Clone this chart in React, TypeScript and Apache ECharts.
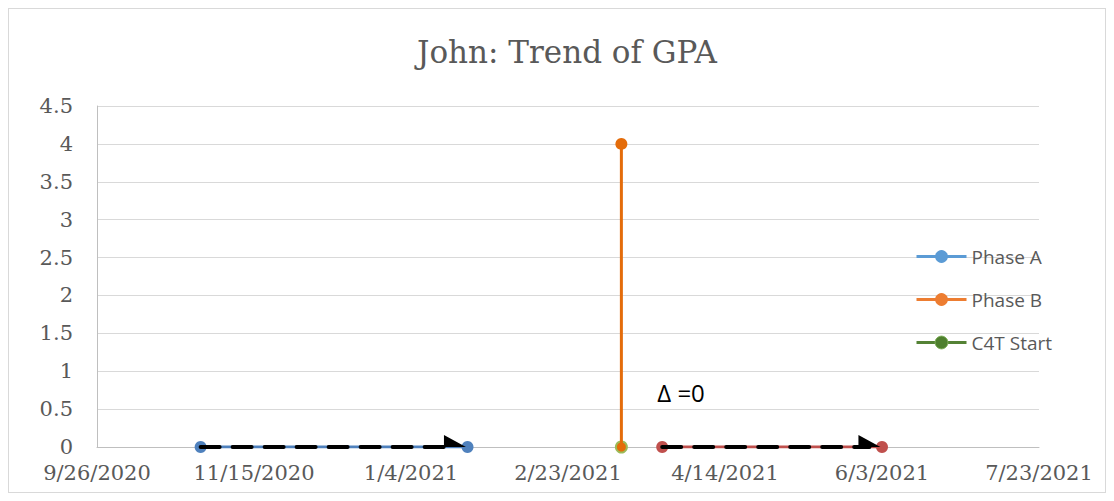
import React, { useEffect, useRef } from "react";
import * as echarts from "echarts";

// Dates are stored as Excel serial day numbers (44100 = 9/26/2020)
const xMin = 44100;
const xMax = 44400;
const xStep = 50;
const xTickLabels = ["9/26/2020", "11/15/2020", "1/4/2021", "2/23/2021", "4/14/2021", "6/3/2021", "7/23/2021"];

const phaseA: [number, number][] = [
  [44133, 0],
  [44218, 0],
];
const phaseB: [number, number][] = [
  [44267, 0],
  [44267, 4],
];
const c4tStart: [number, number][] = [[44267, 0]];
const phaseBTrend: [number, number][] = [
  [44280, 0],
  [44350, 0],
];
const trendArrows: [[number, number], [number, number]][] = [
  [[44133, 0], [44214, 0]],
  [[44280, 0], [44346, 0]],
];
const deltaNote = { x: 44286, y: 0.72, text: "Δ =0" };

const halfArrow = "path://M10,0 L10,22 L0,22 Z M20,22 L20,22 Z";

export default function App() {
  const ref = useRef<HTMLDivElement>(null);
  useEffect(() => {
    if (!ref.current) return;
    const chart = echarts.init(ref.current, null, { renderer: "svg" });
    const serif = "DejaVu Serif";
    const sans = "Open Sans";
    chart.setOption({
      animation: false,
      backgroundColor: "#ffffff",
      title: {
        text: "John: Trend of GPA",
        left: 558,
        textAlign: "center",
        top: 27,
        padding: 0,
        textStyle: { fontFamily: serif, fontSize: 31, fontWeight: "normal", color: "#595959" },
      },
      grid: { left: 88, top: 97, width: 942, height: 341, containLabel: false },
      legend: {
        orient: "vertical",
        left: 901,
        top: 233,
        itemWidth: 50,
        itemHeight: 16,
        itemGap: 24,
        textStyle: { fontFamily: sans, fontSize: 19, color: "#595959" },
        data: [
          {
            name: "Phase A",
            itemStyle: { color: "#5B9BD5" },
            lineStyle: { color: "#5B9BD5", width: 3 },
          },
          {
            name: "Phase B",
            itemStyle: { color: "#ED7D31" },
            lineStyle: { color: "#ED7D31", width: 3 },
          },
          {
            name: "C4T Start",
            itemStyle: { color: "#4E7F2E", borderColor: "#7FAF5A", borderWidth: 1 },
            lineStyle: { color: "#548235", width: 3 },
          },
        ],
      },
      xAxis: {
        type: "value",
        min: xMin,
        max: xMax,
        interval: xStep,
        axisLine: { show: true, lineStyle: { color: "#BFBFBF", width: 1 } },
        axisTick: { show: false },
        splitLine: { show: false },
        axisLabel: {
          margin: 15,
          fontFamily: serif,
          fontSize: 21,
          color: "#595959",
          formatter: (v: number) => xTickLabels[Math.round((v - xMin) / xStep)] ?? "",
        },
      },
      yAxis: {
        type: "value",
        min: 0,
        max: 4.5,
        interval: 0.5,
        axisLine: { show: true, lineStyle: { color: "#BFBFBF", width: 1 } },
        axisTick: { show: false },
        splitLine: { show: true, lineStyle: { color: "#D9D9D9", width: 1 } },
        axisLabel: { margin: 24, fontFamily: serif, fontSize: 21, color: "#595959" },
      },
      series: [
        {
          name: "Phase A",
          type: "line",
          data: phaseA,
          symbol: "circle",
          symbolSize: 12,
          lineStyle: { color: "#4F81BD", width: 3 },
          itemStyle: { color: "#4F81BD" },
          z: 2,
        },
        {
          name: "Phase B trend",
          type: "line",
          data: phaseBTrend,
          symbol: "circle",
          symbolSize: 12,
          lineStyle: { color: "#C0504D", width: 3 },
          itemStyle: { color: "#C0504D" },
          z: 2,
        },
        {
          name: "C4T Start",
          type: "line",
          data: c4tStart,
          symbol: "circle",
          symbolSize: 13,
          lineStyle: { color: "#548235", width: 3 },
          itemStyle: { color: "#9BBB59" },
          z: 2,
        },
        {
          name: "Phase B",
          type: "line",
          data: phaseB,
          symbol: "circle",
          symbolSize: (val: number[]) => (val[1] === 0 ? 9 : 12),
          lineStyle: { color: "#E46C0A", width: 3 },
          itemStyle: { color: "#E46C0A" },
          z: 3,
        },
        {
          name: "arrows",
          type: "line",
          data: [],
          z: 5,
          markLine: {
            silent: true,
            symbol: ["none", halfArrow],
            symbolSize: [24, 22],
            label: { show: false },
            lineStyle: { color: "#000000", width: 4, type: [19, 13], cap: "round" },
            data: trendArrows.map(([a, b]) => [{ coord: a }, { coord: b }]),
          },
          markPoint: {
            silent: true,
            symbol: "circle",
            symbolSize: 0,
            label: {
              show: true,
              position: "inside",
              formatter: deltaNote.text,
              fontFamily: sans,
              fontSize: 24,
              color: "#000000",
            },
            data: [{ coord: [deltaNote.x, deltaNote.y] }],
          },
        },
      ],
    });
    return () => chart.dispose();
  }, []);
  return (
    <div
      style={{
        width: 1098,
        height: 485,
        border: "1px solid #D9D9D9",
        boxSizing: "border-box",
        background: "#fff",
      }}
    >
      <div ref={ref} style={{ width: 1096, height: 483 }} />
    </div>
  );
}
